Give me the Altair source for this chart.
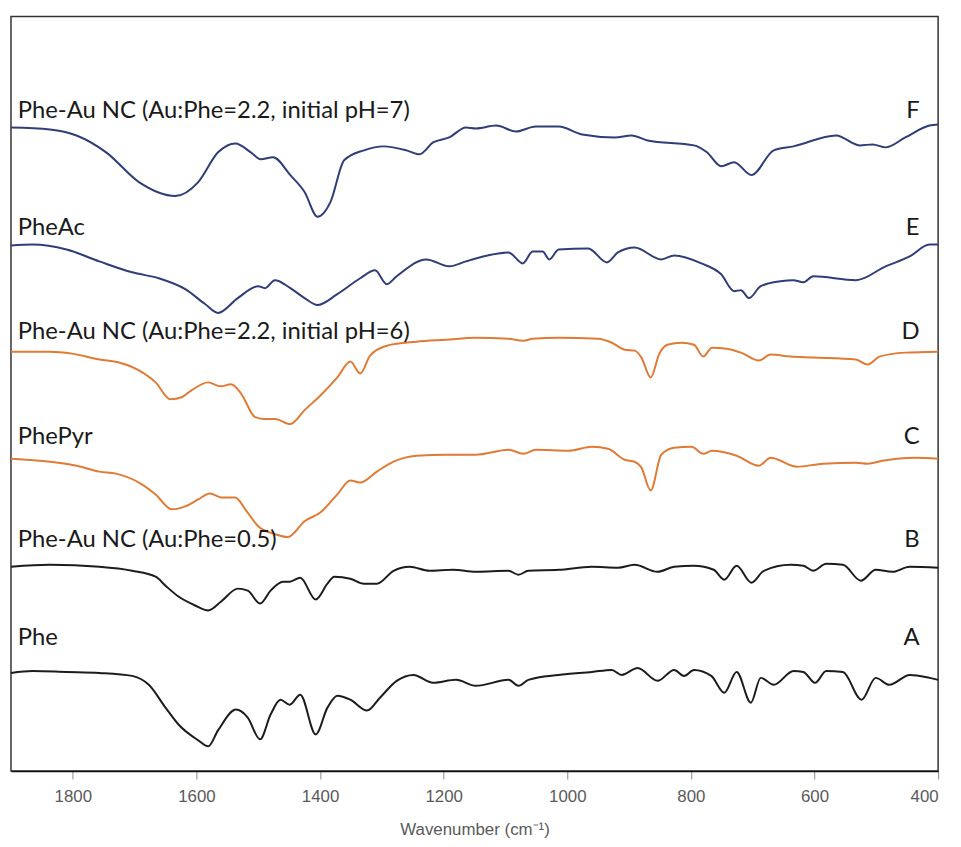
import altair as alt
import pandas as pd

# ---- data (wavenumber in cm-1, intensity in arbitrary units) ----
wn_F = [1900, 1837, 1794, 1746, 1693, 1634, 1597, 1565, 1537, 1512, 1496, 1476, 1448, 1425, 1404,
        1383, 1361, 1329, 1297, 1260, 1239, 1217, 1191, 1164, 1148, 1115, 1083, 1051, 1014, 976,
        923, 896, 870, 795, 774, 751, 730, 702, 666, 634, 565, 527, 506, 485, 453, 414, 400]
val_F = [677, 675, 669, 652, 622, 608, 622, 652, 661, 652, 645, 647, 629, 612, 587,
         602, 644, 654, 658, 654, 650, 662, 667, 677, 676, 679, 673, 678, 678, 670,
         667, 669, 664, 659, 652, 638, 642, 629, 654, 658, 669, 659, 660, 657, 667, 679, 680]

wn_E = [1900, 1865, 1810, 1757, 1704, 1661, 1618, 1586, 1565, 1533, 1500, 1489, 1473, 1448, 1425,
        1404, 1372, 1335, 1311, 1292, 1276, 1228, 1191, 1164, 1148, 1095, 1072, 1056, 1040, 1029,
        1014, 966, 936, 918, 891, 848, 827, 783, 751, 730, 719, 706, 687, 655, 634, 618, 602,
        533, 485, 446, 414, 400]
val_E = [558, 559, 554, 542, 531, 525, 514, 499, 490, 505, 517, 515, 523, 515, 505,
         498, 509, 525, 533, 519, 527, 544, 537, 542, 545, 551, 540, 552, 552, 544,
         554, 555, 541, 551, 556, 544, 548, 540, 529, 512, 513, 505, 517, 522, 523, 521, 527,
         523, 537, 547, 559, 559]

wn_D = [1900, 1837, 1801, 1757, 1725, 1693, 1666, 1642, 1624, 1608, 1581, 1561, 1544, 1528, 1505,
        1489, 1473, 1448, 1425, 1399, 1372, 1351, 1335, 1319, 1292, 1244, 1196, 1148, 1095, 1071,
        1056, 1014, 950, 928, 907, 891, 880, 865, 851, 838, 815, 795, 780, 766, 742,
        719, 690, 671, 639, 602, 533, 514, 495, 453, 400]
val_D = [451, 451, 449, 443, 440, 432, 420, 403, 405, 412, 420, 416, 418, 409, 385,
         383, 383, 378, 392, 407, 425, 441, 429, 447, 457, 461, 463, 465, 464, 462,
         464, 465, 464, 460, 453, 452, 445, 425, 449, 458, 460, 458, 446, 455, 454,
         450, 442, 448, 446, 445, 443, 438, 446, 450, 451]

wn_C = [1900, 1837, 1794, 1757, 1730, 1693, 1666, 1640, 1618, 1597, 1578, 1560, 1537, 1521, 1500,
        1473, 1452, 1425, 1399, 1372, 1351, 1335, 1308, 1281, 1244, 1196, 1148, 1095, 1071, 1051,
        998, 960, 934, 907, 891, 880, 865, 848, 827, 799, 780, 766, 726, 690, 671,
        629, 586, 533, 514, 490, 437, 400]
val_C = [343, 340, 336, 330, 328, 319, 307, 292, 295, 302, 308, 304, 304, 292, 275,
         267, 264, 280, 289, 307, 321, 319, 330, 340, 346, 347, 347, 352, 348, 352,
         351, 355, 353, 342, 340, 334, 311, 347, 354, 355, 348, 351, 346, 336, 344,
         335, 338, 339, 338, 341, 344, 343]

wn_B = [1900, 1837, 1757, 1704, 1666, 1650, 1629, 1602, 1581, 1560, 1533, 1517, 1497, 1480, 1460,
        1449, 1432, 1407, 1388, 1377, 1351, 1329, 1308, 1281, 1255, 1223, 1185, 1148, 1095, 1079,
        1063, 1014, 960, 918, 891, 854, 827, 795, 763, 746, 726, 702, 682, 639, 618,
        602, 581, 554, 525, 501, 474, 446, 400]
val_B = [234, 236, 234, 230, 224, 215, 204, 195, 190, 199, 212, 210, 197, 210, 219,
         219, 223, 201, 217, 224, 222, 217, 217, 230, 234, 230, 231, 229, 230, 226,
         230, 231, 234, 233, 236, 229, 234, 235, 231, 221, 235, 218, 230, 236, 235,
         230, 237, 236, 220, 231, 229, 234, 233]

wn_A = [1900, 1865, 1810, 1757, 1704, 1677, 1650, 1629, 1597, 1581, 1565, 1536, 1517, 1497, 1480,
        1464, 1449, 1432, 1407, 1388, 1372, 1351, 1324, 1303, 1276, 1249, 1217, 1180, 1148, 1095,
        1079, 1063, 1014, 960, 928, 912, 886, 854, 827, 811, 795, 767, 746, 726, 703,
        687, 666, 634, 618, 599, 581, 554, 524, 501, 479, 446, 414, 400]
val_A = [127, 129, 128, 127, 124, 115, 92, 75, 59, 53, 69, 90, 82, 60, 85,
         100, 95, 105, 65, 92, 104, 100, 89, 102, 119, 125, 117, 120, 114, 120,
         114, 120, 125, 128, 130, 125, 132, 119, 130, 124, 130, 124, 107, 128, 97,
         122, 115, 129, 128, 117, 129, 128, 100, 122, 115, 125, 122, 120]

letters = ["F", "E", "D", "C", "B", "A"]
names = ["Phe-Au NC (Au:Phe=2.2, initial pH=7)", "PheAc",
         "Phe-Au NC (Au:Phe=2.2, initial pH=6)", "PhePyr",
         "Phe-Au NC (Au:Phe=0.5)", "Phe"]
groups = ["blue", "blue", "orange", "orange", "black", "black"]
label_level = [687, 569, 464, 358, 254, 155]
x_ticks = [1800, 1600, 1400, 1200, 1000, 800, 600, 400]

series_wn = [wn_F, wn_E, wn_D, wn_C, wn_B, wn_A]
series_val = [val_F, val_E, val_D, val_C, val_B, val_A]

rows = []
for letter, grp, wns, vals in zip(letters, groups, series_wn, series_val):
    for w, v in zip(wns, vals):
        rows.append({"series": letter, "group": grp, "wn": w, "val": v})
df = pd.DataFrame(rows)

lab = pd.DataFrame({"letter": letters, "name": names, "level": label_level,
                    "left": [1889] * 6, "right": [430] * 6})

xscale = alt.Scale(domain=[400, 1900], reverse=True, nice=False, zero=False)
yscale = alt.Scale(domain=[28, 789], nice=False, zero=False)
color_scale = alt.Scale(domain=["blue", "orange", "black"],
                        range=["#2f3d78", "#e07a35", "#1c1c1c"])

xaxis = alt.Axis(values=x_ticks, format="d", title="Wavenumber (cm⁻¹)", grid=False,
                 domainColor="#111111", domainWidth=1.5,
                 tickColor="#8a8a8a", tickSize=8, tickWidth=1,
                 labelFont="Liberation Sans", labelFontSize=17, labelColor="#5a5a5a",
                 labelPadding=10,
                 titleFont="Liberation Sans", titleFontSize=17, titleFontWeight="normal",
                 titleColor="#5a5a5a", titlePadding=17)

lines = alt.Chart(df).mark_line(interpolate="monotone", strokeWidth=2).encode(
    x=alt.X("wn:Q", scale=xscale, axis=xaxis),
    y=alt.Y("val:Q", scale=yscale, axis=None),
    color=alt.Color("group:N", scale=color_scale, legend=None),
    detail="series:N",
)

names_layer = alt.Chart(lab).mark_text(align="left", baseline="alphabetic", font="Lato",
                                       fontSize=24, color="#1a1a1a").encode(
    x=alt.X("left:Q", scale=xscale),
    y=alt.Y("level:Q", scale=yscale),
    text="name:N",
)

letters_layer = alt.Chart(lab).mark_text(align="right", baseline="alphabetic", font="Lato",
                                         fontSize=24, color="#1a1a1a").encode(
    x=alt.X("right:Q", scale=xscale),
    y=alt.Y("level:Q", scale=yscale),
    text="letter:N",
)

chart = alt.layer(lines, names_layer, letters_layer).properties(
    width=935, height=761,
    padding={"left": 3, "top": 5, "right": 15, "bottom": 72},
    autosize="none",
).configure_view(stroke="#333333", strokeWidth=1.5)

chart.save("out.html", embed_options={"renderer": "svg", "actions": False})
